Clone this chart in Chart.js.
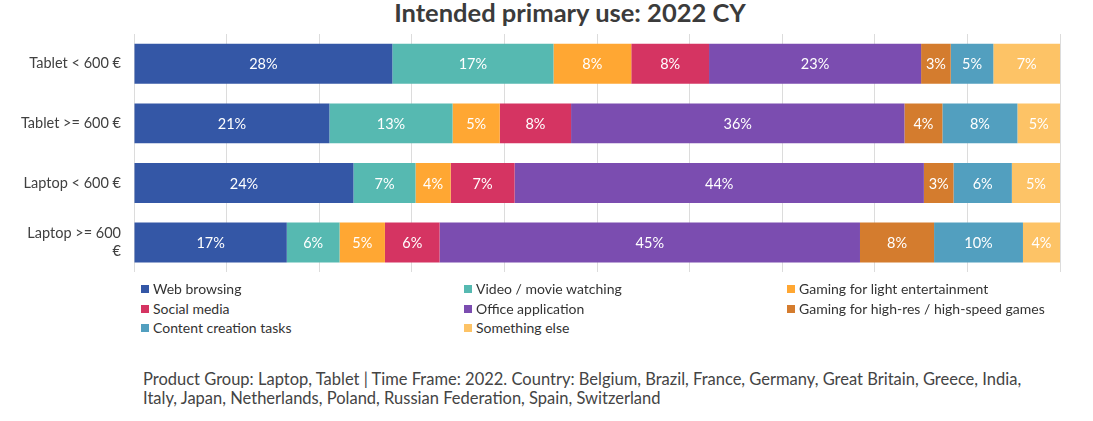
<!DOCTYPE html>
<html>
<head>
<meta charset="utf-8">
<script src="https://cdn.jsdelivr.net/npm/chart.js@4"></script>
<style>
    body { margin: 0; background: #fff; font-family: Lato, sans-serif; }
    #page { position: relative; width: 1093px; height: 421px; overflow: hidden; }
    #title { position: absolute; left: 0; top: -3px; width: 1140px; text-align: center; font-weight: bold; font-size: 25.5px; color: #3b3b3b; }
    #useChart { position: absolute; left: 0; top: 0; }
    .item { position: absolute; font-size: 14px; color: #333; white-space: nowrap; line-height: 16px; }
    .item span { display: inline-block; width: 8px; height: 8px; margin-right: 4px; vertical-align: 1px; }
    #note { position: absolute; left: 143px; top: 370px; font-size: 16.5px; line-height: 19px; color: #444; white-space: nowrap; }
</style>
</head>
<body>
<div id="page">
    <div id="title">Intended primary use: 2022 CY</div>
    <canvas id="useChart" width="1093" height="286"></canvas>
    <div id="legend"></div>
    <div id="note">Product Group: Laptop, Tablet | Time Frame: 2022. Country: Belgium, Brazil, France, Germany, Great Britain, Greece, India,<br>Italy, Japan, Netherlands, Poland, Russian Federation, Spain, Switzerland</div>
</div>
<script>
const categories = ["Tablet < 600 €", "Tablet >= 600 €", "Laptop < 600 €", ["Laptop >= 600", "€"]];
const seriesNames = ["Web browsing", "Video / movie watching", "Gaming for light entertainment", "Social media", "Office application", "Gaming for high-res / high-speed games", "Content creation tasks", "Something else"];
const webBrowsing = [27.9, 21.1, 23.7, 16.5];
const videoWatching = [17.4, 13.3, 6.7, 5.7];
const gamingLight = [8.4, 5.1, 3.8, 4.9];
const socialMedia = [8.4, 7.7, 6.9, 5.9];
const officeApp = [22.9, 36.0, 44.2, 45.4];
const gamingHighRes = [3.2, 4.1, 3.2, 8.0];
const contentCreation = [4.6, 8.1, 6.3, 9.6];
const somethingElse = [7.2, 4.6, 5.2, 4.0];
const colors = ["#3457a6", "#56b9b1", "#ffa733", "#d53462", "#7b4db0", "#d47c2e", "#529fbf", "#fdc366"];

const seriesData = [webBrowsing, videoWatching, gamingLight, socialMedia, officeApp, gamingHighRes, contentCreation, somethingElse];

// legend: 3 columns, filled row by row
const legendBox = document.getElementById("legend");
const colX = [141, 464, 787];
const rowY = [281, 301, 320];
seriesNames.forEach((name, i) =>
{
    const div = document.createElement("div");
    div.className = "item";
    div.style.left = colX[i % 3] + "px";
    div.style.top = rowY[Math.floor(i / 3)] + "px";
    div.innerHTML = '<span style="background:' + colors[i] + '"></span>' + name;
    legendBox.appendChild(div);
});

const barLabels =
{
    id: "barLabels",
    afterDatasetsDraw(chart)
    {
        const ctx = chart.ctx;
        ctx.save();
        ctx.font = "14.5px Lato";
        ctx.fillStyle = "#fff";
        ctx.textAlign = "center";
        ctx.textBaseline = "middle";
        chart.data.datasets.forEach((ds, i) =>
        {
            chart.getDatasetMeta(i).data.forEach((bar, j) =>
            {
                const x = (bar.x + bar.base) / 2;
                ctx.fillText(Math.round(ds.data[j]) + "%", x, bar.y + 1);
            });
        });
        ctx.restore();
    }
};

new Chart(document.getElementById("useChart"),
{
    type: "bar",
    data:
    {
        labels: categories,
        datasets: seriesNames.map((name, i) => (
        {
            label: name,
            data: seriesData[i],
            backgroundColor: colors[i],
            borderWidth: 0,
            barPercentage: 0.67,
            categoryPercentage: 1
        }))
    },
    options:
    {
        indexAxis: "y",
        responsive: false,
        animation: false,
        layout: { padding: { top: 34, right: 33, left: 0, bottom: 0 } },
        plugins:
        {
            legend: { display: false },
            tooltip: { enabled: false }
        },
        scales:
        {
            x:
            {
                stacked: true,
                min: 0,
                max: 100,
                ticks: { display: false, stepSize: 10 },
                grid: { color: "#dcdcdc", drawTicks: false },
                border: { display: false },
                afterFit(scale) { scale.height = 13; }
            },
            y:
            {
                stacked: true,
                grid: { display: false },
                border: { display: false },
                ticks: { color: "#404040", font: { family: "Lato", size: 14.5 }, padding: 5 },
                afterFit(scale) { scale.width = 134; }
            }
        }
    },
    plugins: [barLabels]
});
</script>
</body>
</html>
